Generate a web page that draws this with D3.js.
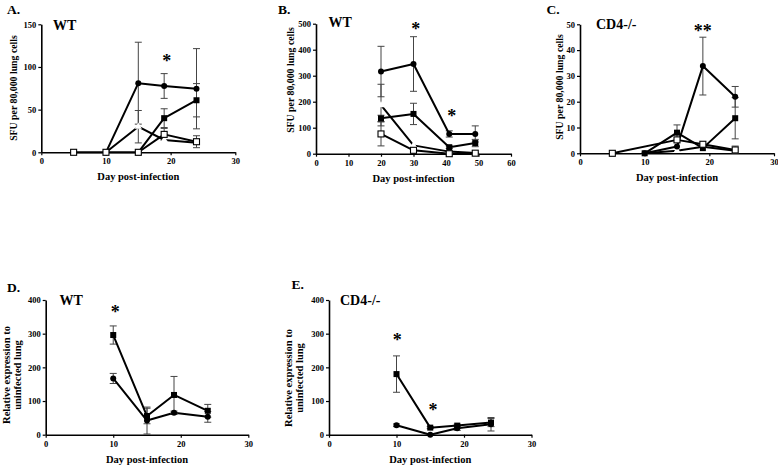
<!DOCTYPE html>
<html lang="en">
<head>
    <meta charset="UTF-8">
    <title>SFU and relative expression panels</title>
    <script src="https://d3js.org/d3.v7.min.js"></script>
    <style>
        body { margin: 0; background: #fff; }
        svg text { font-family: "Liberation Serif", "Times New Roman", serif; font-weight: bold; fill: #000; }
    </style>
</head>
<body>
    <svg width="778" height="466"></svg>

    <script>
        // each point: [day, value, sem]
        const aCircle = [[10, 0, 0], [15, 81, 48], [19, 77.7, 14.5], [24, 74.5, 47]];
        const aSquare = [[15, 0, 0], [19, 40, 11], [24, 61, 19.5]];
        const aTriangle = [[10, 0, 0], [15, 30, 19], [19, 14.4, 0], [24, 11.3, 0]];
        const aOpen = [[5, 0, 0], [10, 0, 0], [15, 0, 0], [19, 21, 7], [24, 12.4, 7]];

        const bCircle = [[20, 316, 97], [30, 345, 105], [41, 76, 12], [49, 76, 31]];
        const bSquare = [[20, 136, 12], [30, 153, 41], [41, 25, 5], [49, 41, 14]];
        const bTriangle = [[20, 187, 80], [30, 32, 0], [41, 8, 0], [49, 3, 0]];
        const bOpen = [[20, 76, 46], [30, 13, 4], [41, 0, 0], [49, 2, 2]];

        const cCircle = [[10, 0, 0], [15, 2.6, 0], [19, 33.8, 11.2], [24, 21.9, 4]];
        const cSquare = [[10, 0, 0], [15, 8, 3], [19, 2, 0], [24, 13.6, 8]];
        const cTriangle = [[10, 0, 0], [15, 1, 0], [19, 2.5, 0], [24, 1, 0]];
        const cOpen = [[5, 0, 0], [15, 5.2, 0], [19, 3.5, 0], [24, 1.3, 1.5]];

        const dSquare = [[10, 296, 27], [15, 55.5, 23], [19, 118, 55], [24, 71, 19]];
        const dCircle = [[10, 167, 15], [15, 42, 40], [19, 65, 5], [24, 53, 16]];

        const eSquare = [[10, 180, 54], [15, 21, 3], [19, 27, 4], [24, 36, 12]];
        const eCircle = [[10, 28, 4], [15, 0, 0], [19, 19, 6], [24, 31, 20]];

        // asterisks: [day, value, text]
        const aStars = [[19.4, 112, "*"]];
        const bStars = [[30.7, 495, "*"], [41.8, 161, "*"]];
        const cStars = [[19.0, 49, "**"]];
        const dStars = [[10.3, 376, "*"]];
        const eStars = [[10.1, 293, "*"], [15.4, 85, "*"]];

        const sfuLabel = ["SFU per 80,000 lung cells"];
        const relLabel = ["Relative expression to", "uninfected lung"];
        const xLabel = "Day post-infection";

        const svg = d3.select("svg");

        function drawPanel(p) {
            const g = svg.append("g");
            const x = d3.scaleLinear().domain(p.xDomain).range([p.left, p.right]);
            const y = d3.scaleLinear().domain(p.yDomain).range([p.bottom, p.top]);

            // axes
            const xAxis = g.append("g")
                .attr("transform", `translate(0,${p.bottom})`)
                .call(d3.axisBottom(x).tickValues(p.xTicks).tickSize(3).tickSizeOuter(0).tickPadding(3));
            const yAxis = g.append("g")
                .attr("transform", `translate(${p.left},0)`)
                .call(d3.axisLeft(y).tickValues(p.yTicks).tickSize(3).tickSizeOuter(0).tickPadding(2));
            [xAxis, yAxis].forEach(a => {
                a.attr("font-family", null);
                a.select(".domain").attr("stroke", "#000").attr("stroke-width", 1.6);
                a.selectAll(".tick line").attr("stroke", "#000").attr("stroke-width", 1.2);
                a.selectAll("text").attr("font-size", 8.5).attr("fill", "#000");
            });

            const line = d3.line().x(d => x(d[0])).y(d => y(d[1]));

            // error bars + lines
            p.series.forEach(s => {
                const eb = g.append("g");
                s.data.filter(d => d[2] > 0).forEach(d => {
                    const cx = x(d[0]);
                    const y1 = y(d[1] + d[2]), y2 = y(Math.max(d[1] - d[2], p.yDomain[0]));
                    eb.append("line").attr("x1", cx).attr("x2", cx).attr("y1", y1).attr("y2", y2)
                        .attr("stroke", "#444").attr("stroke-width", 1);
                    [y1, y2].forEach(yy => eb.append("line")
                        .attr("x1", cx - 3.5).attr("x2", cx + 3.5).attr("y1", yy).attr("y2", yy)
                        .attr("stroke", "#444").attr("stroke-width", 1));
                });
                g.append("path").datum(s.data).attr("d", line)
                    .attr("fill", "none").attr("stroke", "#000").attr("stroke-width", 2)
                    .attr("stroke-linejoin", "round");
            });

            // markers
            p.series.forEach(s => {
                const m = g.append("g");
                s.data.forEach(d => {
                    const cx = x(d[0]), cy = y(d[1]);
                    if (s.kind === "circle") {
                        m.append("circle").attr("cx", cx).attr("cy", cy).attr("r", 3).attr("fill", "#000");
                    } else if (s.kind === "square") {
                        m.append("rect").attr("x", cx - 3).attr("y", cy - 3).attr("width", 6).attr("height", 6).attr("fill", "#000");
                    } else if (s.kind === "open") {
                        m.append("rect").attr("x", cx - 3).attr("y", cy - 3).attr("width", 6).attr("height", 6)
                            .attr("fill", "#fff").attr("stroke", "#000").attr("stroke-width", 1.1);
                    } else if (s.kind === "triangle") {
                        m.append("path").attr("d", d3.symbol(d3.symbolTriangle, 22)())
                            .attr("transform", `translate(${cx},${cy})`).attr("fill", "#fff");
                    }
                });
            });

            // asterisks
            p.stars.forEach(s => {
                g.append("text").attr("x", x(s[0])).attr("y", y(s[1]) + 10)
                    .attr("text-anchor", "middle").attr("font-size", 18).text(s[2]);
            });

            // panel letter and strain
            g.append("text").attr("x", p.letterPos[0]).attr("y", p.letterPos[1]).attr("font-size", 13.5).text(p.letter);
            g.append("text").attr("x", p.strainPos[0]).attr("y", p.strainPos[1]).attr("font-size", 14).text(p.strain);

            // axis titles
            g.append("text").attr("x", (p.left + p.right) / 2).attr("y", p.bottom + 28)
                .attr("text-anchor", "middle").attr("font-size", 10.5).text(xLabel);

            const yl = g.append("text").attr("text-anchor", "middle").attr("font-size", p.yLabelSize)
                .attr("transform", `translate(${p.yLabelX},${p.yLabelY}) rotate(-90)`);
            p.yLabel.forEach((t, i) => {
                yl.append("tspan").attr("x", 0).attr("dy", i === 0 ? 0 : 11).text(t);
            });
        }

        drawPanel({
            left: 41.3, right: 235.3, top: 24.3, bottom: 152.3,
            xDomain: [0, 30], yDomain: [0, 150], xTicks: [0, 10, 20, 30], yTicks: [0, 50, 100, 150],
            series: [
                { kind: "triangle", data: aTriangle }, { kind: "circle", data: aCircle },
                { kind: "square", data: aSquare }, { kind: "open", data: aOpen }
            ],
            stars: aStars, letter: "A.", letterPos: [7, 13.5], strain: "WT", strainPos: [53, 29.5],
            yLabel: sfuLabel, yLabelX: 16.5, yLabelY: 88, yLabelSize: 9.8
        });

        drawPanel({
            left: 316, right: 511, top: 23.7, bottom: 153.7,
            xDomain: [0, 60], yDomain: [0, 500], xTicks: [0, 10, 20, 30, 40, 50, 60], yTicks: [0, 100, 200, 300, 400, 500],
            series: [
                { kind: "triangle", data: bTriangle }, { kind: "circle", data: bCircle },
                { kind: "square", data: bSquare }, { kind: "open", data: bOpen }
            ],
            stars: bStars, letter: "B.", letterPos: [278, 13.5], strain: "WT", strainPos: [328.5, 26.5],
            yLabel: sfuLabel, yLabelX: 294, yLabelY: 80, yLabelSize: 9.8
        });

        drawPanel({
            left: 580, right: 774, top: 24.3, bottom: 153.3,
            xDomain: [0, 30], yDomain: [0, 50], xTicks: [0, 10, 20, 30], yTicks: [0, 10, 20, 30, 40, 50],
            series: [
                { kind: "triangle", data: cTriangle }, { kind: "circle", data: cCircle },
                { kind: "square", data: cSquare }, { kind: "open", data: cOpen }
            ],
            stars: cStars, letter: "C.", letterPos: [546.5, 14], strain: "CD4-/-", strainPos: [596, 29],
            yLabel: sfuLabel, yLabelX: 562.5, yLabelY: 87, yLabelSize: 9.8
        });

        drawPanel({
            left: 45.7, right: 248.3, top: 300, bottom: 434.7,
            xDomain: [0, 30], yDomain: [0, 400], xTicks: [0, 10, 20, 30], yTicks: [0, 100, 200, 300, 400],
            series: [{ kind: "circle", data: dCircle }, { kind: "square", data: dSquare }],
            stars: dStars, letter: "D.", letterPos: [7, 291.5], strain: "WT", strainPos: [59.5, 305],
            yLabel: relLabel, yLabelX: 9.5, yLabelY: 375, yLabelSize: 10.5
        });

        drawPanel({
            left: 329, right: 531.5, top: 300, bottom: 434.7,
            xDomain: [0, 30], yDomain: [0, 400], xTicks: [0, 10, 20, 30], yTicks: [0, 100, 200, 300, 400],
            series: [{ kind: "circle", data: eCircle }, { kind: "square", data: eSquare }],
            stars: eStars, letter: "E.", letterPos: [291.5, 289], strain: "CD4-/-", strainPos: [340, 305],
            yLabel: relLabel, yLabelX: 291.5, yLabelY: 378, yLabelSize: 10.5
        });
    </script>
</body>
</html>
